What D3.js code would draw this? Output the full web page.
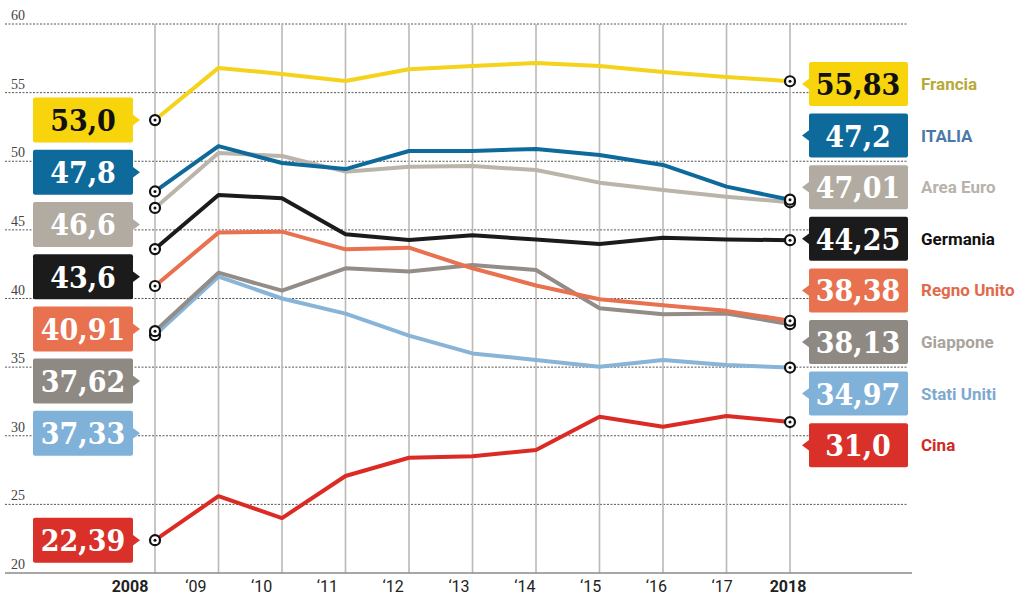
<!DOCTYPE html>
<html lang="it">
<head>
<meta charset="utf-8">
<title>Pressione fiscale</title>
<script src="https://d3js.org/d3.v7.min.js"></script>
<style>
  body { margin: 0; background: #fff; }
  .ylab { font-family: "Liberation Serif", serif; font-size: 14px; fill: #444; }
  .xlab { font-family: "Roboto", sans-serif; font-size: 16px; fill: #222; }
  .val { font-family: "DejaVu Serif Condensed", "DejaVu Serif", serif; font-stretch: condensed; font-weight: bold; font-size: 30px; }
  .name { font-family: "Roboto", sans-serif; font-weight: bold; font-size: 17px; }
</style>
</head>
<body>
<script>
// years and axis text
var years = [2008, 2009, 2010, 2011, 2012, 2013, 2014, 2015, 2016, 2017, 2018];
var yearLabels = ["2008", "\u201809", "\u201810", "\u201811", "\u201812", "\u201813", "\u201814", "\u201815", "\u201816", "\u201817", "2018"];
var yTicks = [20, 25, 30, 35, 40, 45, 50, 55, 60];

// series names, as written on the right
var names = ["Francia", "ITALIA", "Area Euro", "Germania", "Regno Unito", "Giappone", "Stati Uniti", "Cina"];

// values
var francia    = [53.0, 56.8, 56.36, 55.85, 56.7, 56.94, 57.16, 56.94, 56.5, 56.14, 55.83];
var italia     = [47.8, 51.1, 49.87, 49.43, 50.75, 50.75, 50.9, 50.45, 49.73, 48.15, 47.2];
var areaEuro   = [46.6, 50.6, 50.38, 49.24, 49.6, 49.65, 49.36, 48.44, 47.9, 47.42, 47.01];
var germania   = [43.6, 47.54, 47.3, 44.68, 44.26, 44.6, 44.3, 43.97, 44.43, 44.3, 44.25];
var regnoUnito = [40.91, 44.8, 44.87, 43.58, 43.7, 42.2, 40.95, 39.94, 39.5, 39.1, 38.38];
var giappone   = [37.62, 41.88, 40.57, 42.2, 41.96, 42.44, 42.08, 39.29, 38.85, 38.9, 38.13];
var statiUniti = [37.33, 41.6, 40.0, 38.9, 37.3, 36.0, 35.52, 35.03, 35.52, 35.15, 34.97];
var cina       = [22.39, 25.6, 24.0, 27.07, 28.4, 28.5, 28.96, 31.39, 30.66, 31.44, 31.0];

var startLabels = ["53,0", "47,8", "46,6", "43,6", "40,91", "37,62", "37,33", "22,39"];
var endLabels   = ["55,83", "47,2", "47,01", "44,25", "38,38", "38,13", "34,97", "31,0"];

var allValues = [francia, italia, areaEuro, germania, regnoUnito, giappone, statiUniti, cina];

// styles
var lineColors = ["#f5d21c", "#0f6a9c", "#bab4aa", "#1b1b1b", "#e8714f", "#948d87", "#88b4d8", "#dc2b25"];
var boxColors  = ["#f8d40c", "#0f6a9c", "#b1aba2", "#1b1b1b", "#e8714f", "#8f8984", "#80b1d8", "#d9302a"];
var textColors = ["#111", "#fff", "#fff", "#fff", "#fff", "#fff", "#fff", "#fff"];
var nameColors = ["#b8a93a", "#4a78a8", "#b7b2aa", "#111", "#e06a4a", "#a8a39d", "#7ea9cf", "#d02a24"];

var w = 1031, h = 598;
var svg = d3.select("body").append("svg").attr("width", w).attr("height", h);

var x = d3.scaleLinear().domain([2008, 2018]).range([155, 790]);
var xl = d3.scalePoint().domain(years).range([130, 788]);
var y = d3.scaleLinear().domain([20, 60]).range([573, 24]);

// dotted horizontal grid
svg.append("g").selectAll("line")
  .data(yTicks.filter(function(d) { return d > 20; }))
  .enter().append("line")
  .attr("x1", 5).attr("x2", 908)
  .attr("y1", function(d) { return y(d); }).attr("y2", function(d) { return y(d); })
  .attr("stroke", "#555").attr("stroke-width", 1).attr("stroke-dasharray", "2,1.5");

svg.append("g").selectAll("text")
  .data(yTicks)
  .enter().append("text")
  .attr("class", "ylab")
  .attr("x", 11)
  .attr("y", function(d) { return y(d) - 4; })
  .text(function(d) { return d; });

// vertical year lines
svg.append("g").selectAll("line")
  .data(years)
  .enter().append("line")
  .attr("x1", function(d) { return x(d); }).attr("x2", function(d) { return x(d); })
  .attr("y1", y(60)).attr("y2", y(20))
  .attr("stroke", "#bdb8b2").attr("stroke-width", 1.6);

svg.append("line")
  .attr("x1", 5).attr("x2", 912).attr("y1", y(20)).attr("y2", y(20))
  .attr("stroke", "#8a8a8a").attr("stroke-width", 1.6);

svg.append("g").selectAll("text")
  .data(years)
  .enter().append("text")
  .attr("class", "xlab")
  .attr("x", function(d) { return xl(d); })
  .attr("y", 592)
  .attr("text-anchor", "middle")
  .attr("font-weight", function(d, i) { return (i == 0 || i == years.length - 1) ? "bold" : "normal"; })
  .text(function(d, i) { return yearLabels[i]; });

// lines, drawn bottom series first
var line = d3.line()
  .x(function(d, i) { return x(years[i]); })
  .y(function(d) { return y(d); });

var order = [7, 6, 5, 4, 3, 2, 1, 0];
order.forEach(function(k) {
  svg.append("path")
    .datum(allValues[k])
    .attr("d", line)
    .attr("fill", "none")
    .attr("stroke", lineColors[k])
    .attr("stroke-width", 4)
    .attr("stroke-linejoin", "round");
});

// end markers
function marker(cx, cy) {
  svg.append("circle").attr("cx", cx).attr("cy", cy).attr("r", 5)
    .attr("fill", "#fff").attr("stroke", "#111").attr("stroke-width", 2.2);
  svg.append("circle").attr("cx", cx).attr("cy", cy).attr("r", 1.5).attr("fill", "#111");
}
order.forEach(function(k) {
  var v = allValues[k];
  marker(x(years[0]), y(v[0]));
  marker(x(years[years.length - 1]), y(v[v.length - 1]));
});

// left value boxes
var leftY = names.map(function(d, i) {
  if (i == names.length - 1) return y(cina[0]);
  return y(francia[0]) + i * 52.2;
});
names.forEach(function(n, i) {
  var c = leftY[i];
  var g = svg.append("g");
  g.append("rect").attr("x", 33).attr("y", c - 22.5).attr("width", 100).attr("height", 45)
    .attr("rx", 2).attr("fill", boxColors[i]);
  g.append("path").attr("d", "M132," + (c - 6) + "L140," + c + "L132," + (c + 6) + "Z")
    .attr("fill", boxColors[i]);
  g.append("text").attr("class", "val")
    .attr("x", 83).attr("y", c + 11)
    .attr("text-anchor", "middle")
    .attr("fill", textColors[i])
    .text(startLabels[i]);
});

// right value boxes and names
names.forEach(function(n, i) {
  var c = 84 + i * 51.6;
  var g = svg.append("g");
  g.append("rect").attr("x", 809).attr("y", c - 22).attr("width", 99).attr("height", 44)
    .attr("rx", 2).attr("fill", boxColors[i]);
  g.append("path").attr("d", "M810," + (c - 6) + "L802," + c + "L810," + (c + 6) + "Z")
    .attr("fill", boxColors[i]);
  g.append("text").attr("class", "val")
    .attr("x", 858).attr("y", c + 11)
    .attr("text-anchor", "middle")
    .attr("fill", textColors[i])
    .text(endLabels[i]);
  g.append("text").attr("class", "name")
    .attr("x", 921).attr("y", c + 6)
    .attr("fill", nameColors[i])
    .text(n);
});
</script>
</body>
</html>
